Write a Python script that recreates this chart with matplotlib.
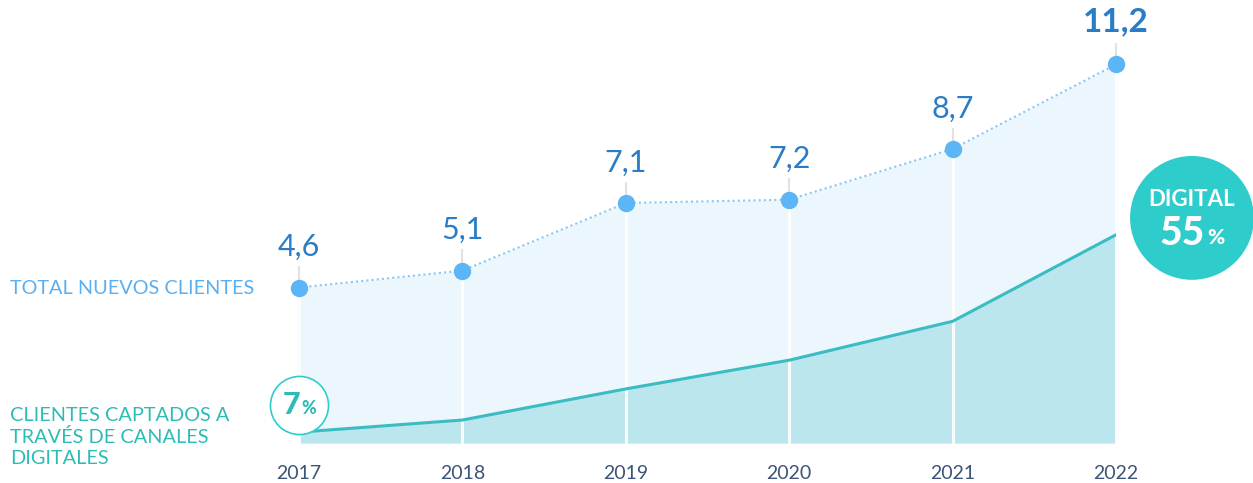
import matplotlib
matplotlib.use('Agg')
import matplotlib.pyplot as plt

plt.rcParams['font.family'] = ['Lato', 'DejaVu Sans']

# Data (millions of new clients)
years = ['2017', '2018', '2019', '2020', '2021', '2022']
total_clients = [4.6, 5.1, 7.1, 7.2, 8.7, 11.2]
digital_clients = [0.32, 0.68, 1.6, 2.45, 3.6, 6.16]
value_labels = ['4,6', '5,1', '7,1', '7,2', '8,7', '11,2']
first_share = '7'
last_share = '55'

BLUE_FILL = '#ebf6fd'
TEAL_FILL = '#bce6ee'
TEAL_LINE = '#3bbcc2'
MARKER = '#5cb5f6'
LABEL_BLUE = '#2b7cc6'
TEAL_TEXT = '#2cbcb6'
CIRCLE = '#2ecdcc'
YEAR_COL = '#3c5478'

W, H = 1253, 483
fig = plt.figure(figsize=(W / 100, H / 100), dpi=100)
x0, x1, y0 = 299, 1116, 443
ymax = y0 / 33.8
ax = fig.add_axes([x0 / W, (H - y0) / H, (x1 - x0) / W, y0 / H])
ax.set_xlim(0, len(years) - 1)
ax.set_ylim(0, ymax)
ax.axis('off')

xs = list(range(len(years)))

ax.fill_between(xs, total_clients, color=BLUE_FILL, zorder=1, lw=0)
ax.fill_between(xs, digital_clients, color=TEAL_FILL, zorder=2, lw=0)

# vertical guides
for x, v in zip(xs, total_clients):
    ax.plot([x, x], [0, v + 0.6], color='#e2e2e2', lw=1.5, zorder=0.5, clip_on=False)
    ax.plot([x, x], [0, v], color='white', lw=2.2, zorder=3, alpha=0.9, clip_on=False)

ax.plot(xs, digital_clients, color=TEAL_LINE, lw=2.2, zorder=4, solid_capstyle='round')
ax.plot(xs, total_clients, color='#86c7f3', lw=1.5, ls=(0, (1, 1.5)), zorder=4)
ax.plot(xs, total_clients, 'o', color=MARKER, ms=11.5, zorder=5, clip_on=False)

for i, (x, v, lab) in enumerate(zip(xs, total_clients, value_labels)):
    last = i == len(xs) - 1
    ax.annotate(lab, (x, v), xytext=(0, 19 if not last else 20), textcoords='offset points',
                ha='center', va='bottom', fontsize=22 if not last else 24,
                fontweight='bold' if last else 'normal', color=LABEL_BLUE, zorder=6,
                annotation_clip=False)

for x, y in zip(xs, years):
    ax.annotate(y, (x, 0), xytext=(0, -22), textcoords='offset points', ha='center',
                va='center', fontsize=14, color=YEAR_COL, annotation_clip=False)

# 7% badge on first point
bx, by = xs[0], digital_clients[0] + 0.8
ax.scatter([bx], [by], s=1750, facecolor='white', edgecolor=CIRCLE, lw=1.2, zorder=7, clip_on=False)
ax.annotate(first_share, (bx, by), xytext=(-5, 0), textcoords='offset points', ha='center',
            va='center', fontsize=22, fontweight='black', color=TEAL_TEXT, zorder=8,
            annotation_clip=False)
ax.annotate('%', (bx, by), xytext=(7, -2.5), textcoords='offset points', ha='center',
            va='center', fontsize=13, fontweight='black', color=TEAL_TEXT, zorder=8,
            annotation_clip=False)

# DIGITAL 55% badge on last point
cx, cy = xs[-1] + 0.465, digital_clients[-1] + 0.5
ax.scatter([cx], [cy], s=7950, facecolor=CIRCLE, edgecolor='none', zorder=7, clip_on=False)
ax.annotate('DIGITAL', (cx, cy), xytext=(0, 13.5), textcoords='offset points', ha='center',
            va='center', fontsize=16, fontweight='bold', color='white', zorder=8,
            annotation_clip=False)
ax.annotate(last_share, (cx, cy), xytext=(-7, -11), textcoords='offset points', ha='center',
            va='center', fontsize=28, fontweight='black', color='white', zorder=8,
            annotation_clip=False)
ax.annotate('%', (cx, cy), xytext=(17, -14), textcoords='offset points', ha='center',
            va='center', fontsize=15, fontweight='black', color='white', zorder=8,
            annotation_clip=False)

# left-hand series labels
fig.text(10 / W, 1 - 288 / H, 'TOTAL NUEVOS CLIENTES', ha='left', va='center',
         fontsize=14.3, color='#5aaff0')
fig.text(10 / W, 1 - 437 / H, 'CLIENTES CAPTADOS A\nTRAVÉS DE CANALES\nDIGITALES', ha='left',
         va='center', fontsize=14.3, color=TEAL_TEXT, linespacing=1.3)

fig.savefig('out.png', dpi=100, facecolor='white')
